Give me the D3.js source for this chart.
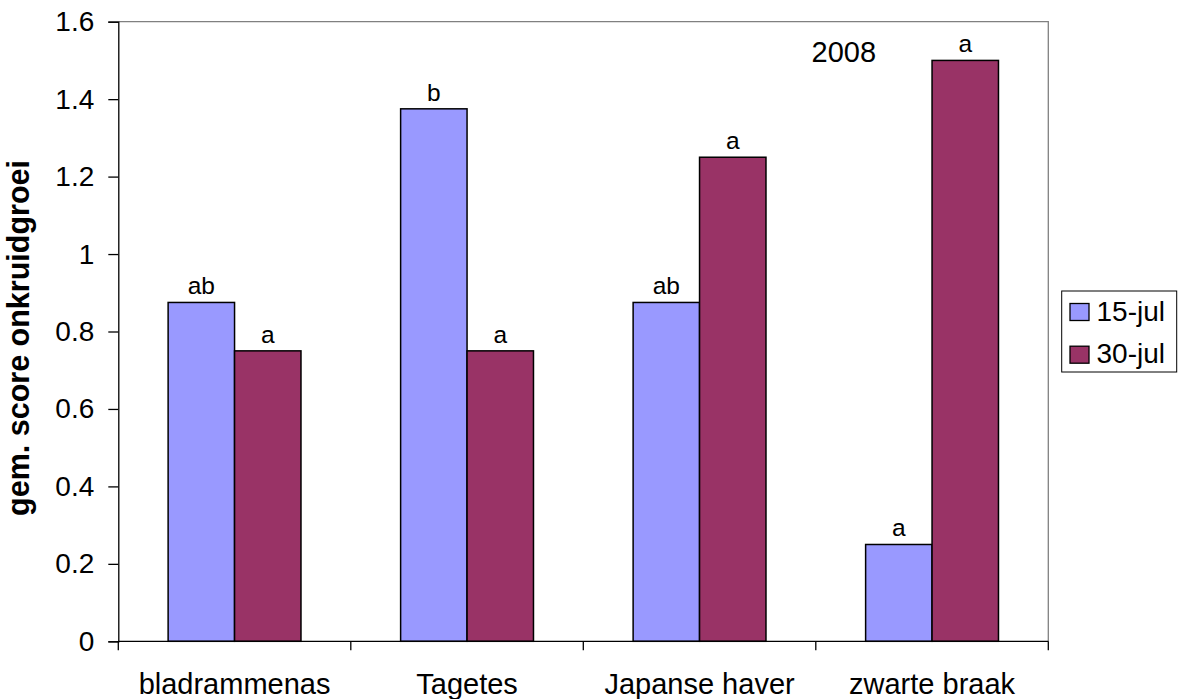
<!DOCTYPE html>
<html>
<head>
<meta charset="utf-8">
<script src="https://cdn.jsdelivr.net/npm/d3@7"></script>
<style>
  html, body { margin: 0; padding: 0; background: #fff; }
  svg { display: block; font-family: "Liberation Sans", Arial, sans-serif; }
</style>
</head>
<body>
<svg id="chart" width="1178" height="699"></svg>
<script>
// Weed growth scores per catch crop, two observation dates (2008)
const categories = ["bladrammenas", "Tagetes", "Japanse haver", "zwarte braak"];
const seriesNames = ["15-jul", "30-jul"];
const jul15 = [0.875, 1.375, 0.875, 0.25];
const jul30 = [0.75, 0.75, 1.25, 1.5];
const jul15Letters = ["ab", "b", "ab", "a"];
const jul30Letters = ["a", "a", "a", "a"];
const yTicks = [0, 0.2, 0.4, 0.6, 0.8, 1, 1.2, 1.4, 1.6];
const colors = ["#9999FF", "#993366"];

const rows = categories.map((c, i) => ({
  category: c,
  values: [
    { series: seriesNames[0], value: jul15[i], letter: jul15Letters[i] },
    { series: seriesNames[1], value: jul30[i], letter: jul30Letters[i] }
  ]
}));

const svg = d3.select("#chart");
const plot = { left: 118.3, right: 1048.3, top: 21.7, bottom: 641.3 };

const x = d3.scaleBand().domain(categories).range([plot.left, plot.right]).padding(0);
const xInner = d3.scaleBand().domain(seriesNames).range([0, x.bandwidth()])
  .paddingInner(0).paddingOuter(0.75);
const y = d3.scaleLinear().domain([0, 1.6]).range([plot.bottom, plot.top]);
const color = d3.scaleOrdinal().domain(seriesNames).range(colors);

// plot area frame (grey top and right edges)
svg.append("path")
  .attr("d", `M${plot.left},${plot.top}H${plot.right}V${plot.bottom}`)
  .attr("fill", "none").attr("stroke", "#808080").attr("stroke-width", 1.3);

// bars
const groups = svg.selectAll("g.cat").data(rows).join("g")
  .attr("class", "cat")
  .attr("transform", d => `translate(${x(d.category)},0)`);

groups.selectAll("rect").data(d => d.values).join("rect")
  .attr("x", d => xInner(d.series))
  .attr("y", d => y(d.value))
  .attr("width", xInner.bandwidth())
  .attr("height", d => y(0) - y(d.value))
  .attr("fill", d => color(d.series))
  .attr("stroke", "#000").attr("stroke-width", 1.5);

groups.selectAll("text.lbl").data(d => d.values).join("text")
  .attr("class", "lbl")
  .attr("x", d => xInner(d.series) + xInner.bandwidth() / 2)
  .attr("y", d => y(d.value) - 8)
  .attr("text-anchor", "middle")
  .attr("font-size", 24.5)
  .attr("fill", "#000")
  .text(d => d.letter);

// y axis
const yAxis = d3.axisLeft(y).tickValues(yTicks).tickSize(10).tickPadding(14)
  .tickFormat(d3.format("~g"));
const ya = svg.append("g").attr("transform", `translate(${plot.left},0)`).call(yAxis);
ya.select(".domain").attr("stroke", "#000").attr("stroke-width", 1.3);
ya.selectAll(".tick line").attr("stroke", "#000").attr("stroke-width", 1.3);
ya.selectAll(".tick text").attr("font-size", 28).attr("fill", "#000")
  .attr("font-family", "Liberation Sans, Arial, sans-serif");

// x axis with ticks at category boundaries
const bounds = categories.map(c => x(c)).concat([plot.right]);
svg.append("line")
  .attr("x1", plot.left).attr("x2", plot.right)
  .attr("y1", plot.bottom).attr("y2", plot.bottom)
  .attr("stroke", "#000").attr("stroke-width", 1.3);
svg.selectAll("line.xtick").data(bounds).join("line")
  .attr("class", "xtick")
  .attr("x1", d => d).attr("x2", d => d)
  .attr("y1", plot.bottom).attr("y2", plot.bottom + 9)
  .attr("stroke", "#000").attr("stroke-width", 1.3);
svg.selectAll("text.xlab").data(categories).join("text")
  .attr("class", "xlab")
  .attr("x", d => x(d) + x.bandwidth() / 2)
  .attr("y", 694)
  .attr("text-anchor", "middle")
  .attr("font-size", 29)
  .text(d => d);

// y axis title
svg.append("text")
  .attr("transform", "translate(29,338) rotate(-90)")
  .attr("text-anchor", "middle")
  .attr("font-size", 30.5)
  .attr("font-weight", "bold")
  .text("gem. score onkruidgroei");

// year note
svg.append("text")
  .attr("x", 811.5).attr("y", 61.5)
  .attr("font-size", 29)
  .text("2008");

// legend
const legend = svg.append("g");
legend.append("rect")
  .attr("x", 1061.7).attr("y", 291).attr("width", 115).attr("height", 81)
  .attr("fill", "#fff").attr("stroke", "#000").attr("stroke-width", 1);
const items = legend.selectAll("g.item").data(seriesNames).join("g")
  .attr("class", "item")
  .attr("transform", (d, i) => `translate(1070,${303.5 + i * 42.7})`);
items.append("rect")
  .attr("width", 19).attr("height", 17)
  .attr("fill", d => color(d)).attr("stroke", "#000").attr("stroke-width", 1.3);
items.append("text")
  .attr("x", 26.5).attr("y", 17.2)
  .attr("font-size", 28)
  .text(d => d);
</script>
</body>
</html>
